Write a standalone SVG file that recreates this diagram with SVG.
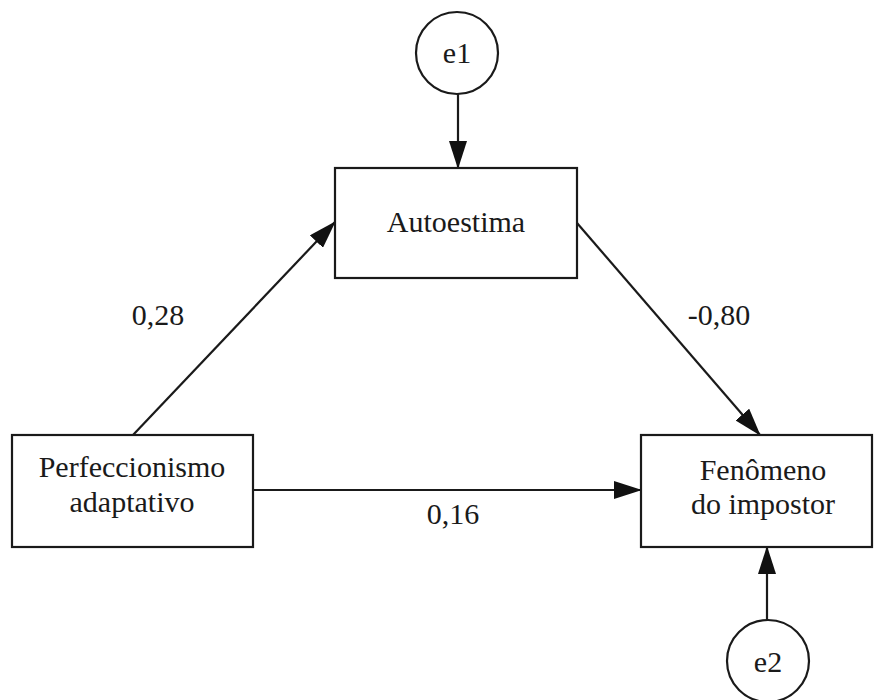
<svg xmlns="http://www.w3.org/2000/svg" width="874" height="700" viewBox="0 0 874 700">
<defs>
<style>
.box{fill:#fff;stroke:#1a1a1a;stroke-width:2.2}
.t{font-family:"Liberation Serif","Times New Roman",serif;font-size:30px;fill:#1a1a1a;text-anchor:middle}
.c{fill:none;stroke:#1a1a1a;stroke-width:2.2}
</style>
<marker id="ah" markerUnits="userSpaceOnUse" markerWidth="28" markerHeight="18" viewBox="0 0 28 18" refX="27" refY="9" orient="auto">
<path d="M0,0 L28,9 L0,18 Z" fill="#111"/>
</marker>
</defs>
<rect width="874" height="700" fill="#fff"/>
<g id="connectors">
<line class="c" x1="458" y1="94" x2="458" y2="168" marker-end="url(#ah)"/>
<line class="c" x1="133" y1="435" x2="335" y2="222" marker-end="url(#ah)"/>
<line class="c" x1="577" y1="223" x2="760" y2="435" marker-end="url(#ah)"/>
<line class="c" x1="253" y1="490" x2="641" y2="490" marker-end="url(#ah)"/>
<line class="c" x1="767" y1="620" x2="767" y2="547" marker-end="url(#ah)"/>
<text class="t" x="158" y="325">0,28</text>
<text class="t" x="719" y="325">-0,80</text>
<text class="t" x="453" y="524">0,16</text>
</g>
<g id="e1">
<circle class="box" cx="457" cy="53" r="41"/>
<text class="t" x="457" y="63">e1</text>
</g>
<g id="autoestima">
<rect class="box" x="335" y="168" width="242" height="110"/>
<text class="t" x="456" y="232">Autoestima</text>
</g>
<g id="perfeccionismo">
<rect class="box" x="12" y="435" width="241" height="112"/>
<text class="t" x="132" y="477">Perfeccionismo</text>
<text class="t" x="132" y="512">adaptativo</text>
</g>
<g id="fenomeno">
<rect class="box" x="641" y="435" width="231" height="112"/>
<text class="t" x="763" y="480">Fenômeno</text>
<text class="t" x="763" y="514">do impostor</text>
</g>
<g id="e2">
<circle class="box" cx="768" cy="661" r="41"/>
<text class="t" x="768" y="672">e2</text>
</g>
</svg>
